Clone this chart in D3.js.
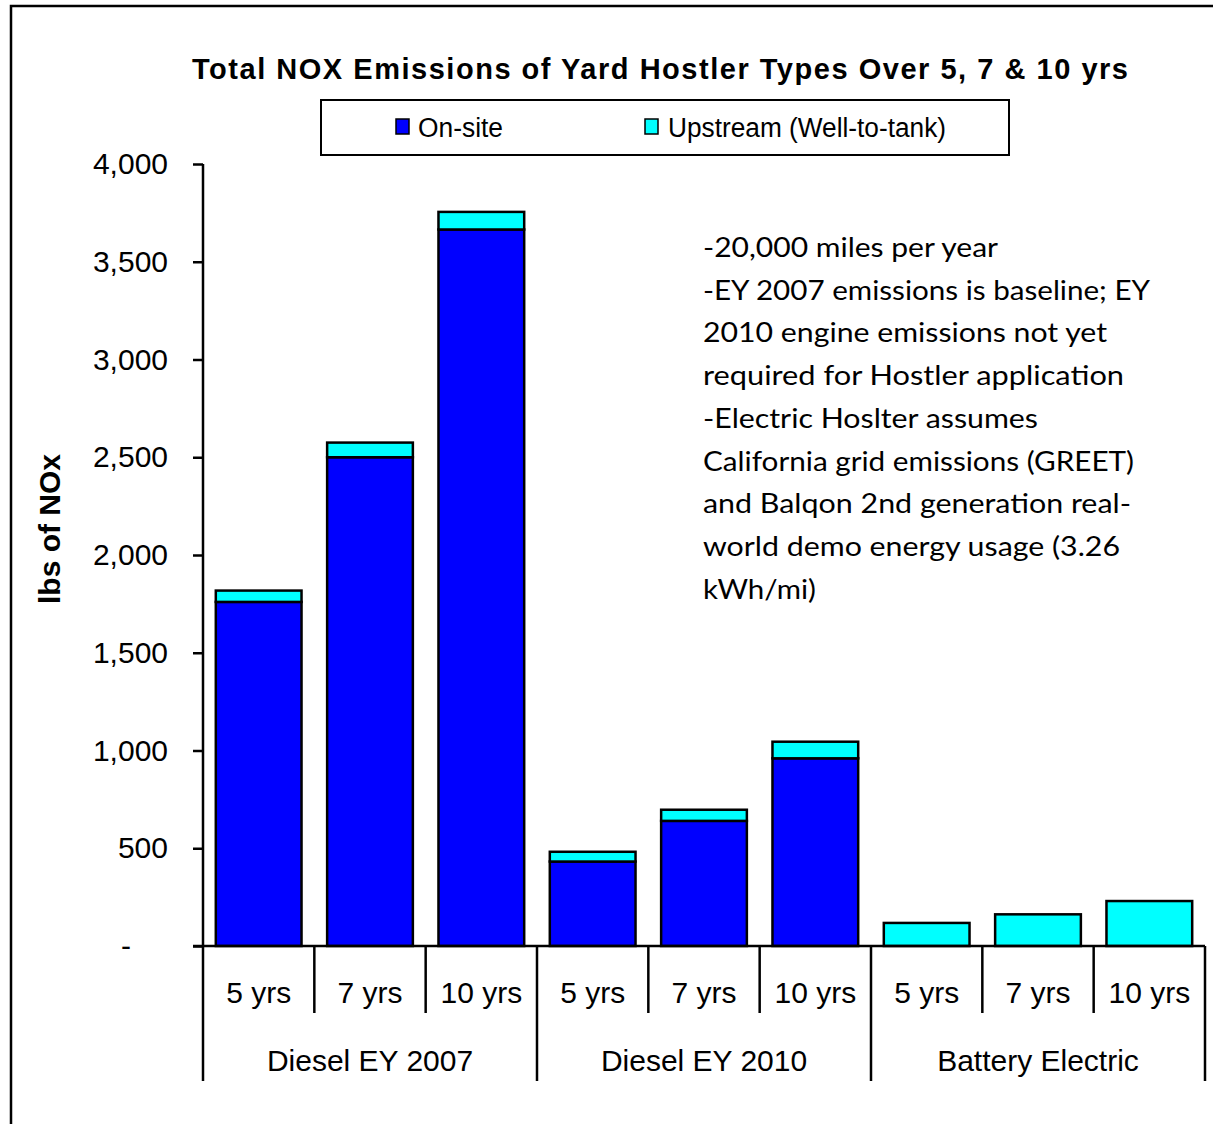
<!DOCTYPE html>
<html><head><meta charset="utf-8">
<script src="https://cdn.jsdelivr.net/npm/d3@7"></script>
<style>
html,body{margin:0;padding:0;background:#fff;}
svg{display:block;}
</style>
</head><body>
<svg id="chart" width="1213" height="1124"></svg>
<script>
// ---- data ----
const groups = ["Diesel EY 2007", "Diesel EY 2010", "Battery Electric"];
const periods = ["5 yrs", "7 yrs", "10 yrs"];
const onsite = [1760, 2500, 3665, 432, 640, 960, 0, 0, 0];
const upstream = [58, 75, 90, 50, 57, 85, 118, 162, 230];
const seriesNames = ["On-site", "Upstream (Well-to-tank)"];
const seriesColors = ["#0000FF", "#00FFFF"];
const yTicks = [0, 500, 1000, 1500, 2000, 2500, 3000, 3500, 4000];
const title = "Total NOX Emissions of Yard Hostler Types Over 5, 7 & 10 yrs";
const yLabel = "lbs of NOx";
const notes = [
  "-20,000 miles per year",
  "-EY 2007 emissions is baseline; EY",
  "2010 engine emissions not yet",
  "required for Hostler application",
  "-Electric Hoslter assumes",
  "California grid emissions (GREET)",
  "and Balqon 2nd generation real-",
  "world demo energy usage  (3.26",
  "kWh/mi)"
];
const noteWidths = [295, 447, 404, 421, 335, 431, 428, 417, 113];

// ---- build ----
const svg = d3.select("#chart");
const cats = [];
groups.forEach(g => periods.forEach(p => cats.push(g + "|" + p)));
const rows = cats.map((c, i) => ({key: c, group: c.split("|")[0], period: c.split("|")[1], onsite: onsite[i], upstream: upstream[i]}));

const x0 = 203, x1 = 1205, yTop = 164, yBot = 946;
const x = d3.scaleBand().domain(cats).range([x0, x1]).paddingInner(0.23).paddingOuter(0.115);
const y = d3.scaleLinear().domain([0, 4000]).range([yBot, yTop]);
const FONT = "Liberation Sans, Arial, sans-serif";

// outer frame
svg.append("rect").attr("x", 11).attr("y", 6).attr("width", 1300).attr("height", 1300)
  .attr("fill", "none").attr("stroke", "#000").attr("stroke-width", 2.5);

// title
svg.append("text").attr("x", 192).attr("y", 79).attr("textLength", 936).attr("lengthAdjust", "spacing")
  .attr("font-family", FONT).attr("font-weight", "bold").attr("font-size", 29)
  .text(title);

// legend
const lg = svg.append("g");
lg.append("rect").attr("x", 321).attr("y", 100).attr("width", 688).attr("height", 55)
  .attr("fill", "#fff").attr("stroke", "#000").attr("stroke-width", 2);
const legItems = [{sx: 396, tx: 418, tw: 85}, {sx: 645, tx: 668, tw: 278}];
seriesNames.forEach((n, i) => {
  lg.append("rect").attr("x", legItems[i].sx).attr("y", 119).attr("width", 13).attr("height", 15)
    .attr("fill", seriesColors[i]).attr("stroke", "#000").attr("stroke-width", 1.5);
  lg.append("text").attr("x", legItems[i].tx).attr("y", 137)
    .attr("textLength", legItems[i].tw).attr("lengthAdjust", "spacingAndGlyphs")
    .attr("font-family", FONT).attr("font-size", 27).text(n);
});

// bars
const stack = d3.stack().keys(["onsite", "upstream"])(rows);
stack.forEach((layer, li) => {
  svg.append("g").selectAll("rect").data(layer.filter(d => d[1] - d[0] > 0)).join("rect")
    .attr("x", d => x(d.data.key))
    .attr("width", x.bandwidth())
    .attr("y", d => y(d[1]))
    .attr("height", d => y(d[0]) - y(d[1]))
    .attr("fill", seriesColors[li])
    .attr("stroke", "#000").attr("stroke-width", 2.5);
});

// y axis
const yAxis = d3.axisLeft(y).tickValues(yTicks).tickSize(10).tickPadding(25)
  .tickFormat(d => d === 0 ? "-" : d3.format(",")(d));
const ya = svg.append("g").attr("transform", `translate(${x0},0)`).call(yAxis);
ya.select(".domain").attr("stroke", "#000").attr("stroke-width", 2.5).attr("d", `M0,${yTop}V${yBot}`);
ya.selectAll(".tick line").attr("stroke", "#000").attr("stroke-width", 2.5);
ya.selectAll(".tick text").attr("font-family", FONT).attr("font-size", 30).attr("fill", "#000");
ya.selectAll(".tick").filter(d => d === 0).select("text").attr("dx", -37);

// x axis baseline
svg.append("line").attr("x1", x0 - 10).attr("x2", x1).attr("y1", yBot).attr("y2", yBot)
  .attr("stroke", "#000").attr("stroke-width", 2.5);

// category separators and labels
const step = x.step();
cats.forEach((c, i) => {
  const left = x0 + i * step;
  const isGroupStart = i % 3 === 0;
  svg.append("line").attr("x1", left).attr("x2", left).attr("y1", yBot).attr("y2", isGroupStart ? 1081 : 1013)
    .attr("stroke", "#000").attr("stroke-width", 2.5);
  svg.append("text").attr("x", x(c) + x.bandwidth() / 2).attr("y", 1003).attr("text-anchor", "middle")
    .attr("font-family", FONT).attr("font-size", 30).text(rows[i].period);
});
svg.append("line").attr("x1", x1).attr("x2", x1).attr("y1", yBot).attr("y2", 1081)
  .attr("stroke", "#000").attr("stroke-width", 2.5);
groups.forEach((g, gi) => {
  const cx = x0 + (gi * 3 + 1.5) * step;
  svg.append("text").attr("x", cx).attr("y", 1071).attr("text-anchor", "middle")
    .attr("font-family", FONT).attr("font-size", 30).text(g);
});

// y label
svg.append("text").attr("transform", "translate(60,529) rotate(-90)").attr("text-anchor", "middle")
  .attr("font-family", FONT).attr("font-weight", "bold").attr("font-size", 30)
  .text(yLabel);

// notes
notes.forEach((t, i) => {
  svg.append("text").attr("x", 703).attr("y", 257 + i * 42.7)
    .attr("textLength", noteWidths[i]).attr("lengthAdjust", "spacingAndGlyphs")
    .attr("font-family", "Lato, Open Sans, sans-serif").attr("font-size", 26).text(t);
});
</script>
</body></html>
